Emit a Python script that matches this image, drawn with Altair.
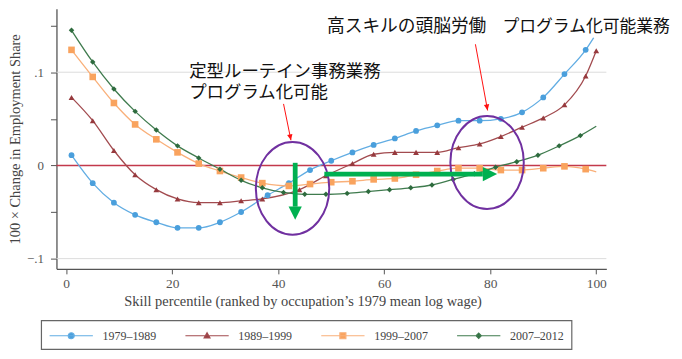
import altair as alt
import numpy as np
import pandas as pd

# ---------------- data ----------------
periods = ["1979–1989", "1989–1999", "1999–2007", "2007–2012"]
marker_colors = ["#4A9FDC", "#973A3E", "#F9A35E", "#2E6B3E"]
line_colors = ["#62ADE3", "#A24B4F", "#F9B07A", "#3F7B4E"]
marker_shapes = ["circle", "triangle-up", "square", "diamond"]
marker_sizes = [34, 34, 44, 30]

x_7989 = [1, 5, 9, 13, 17, 21, 25, 29, 33, 38, 42, 46, 50, 54, 58, 62, 66, 70, 74, 78, 82, 86, 90, 94, 98]
y_7989 = [0.011, -0.019, -0.040, -0.053, -0.061, -0.067, -0.067, -0.061, -0.050, -0.032, -0.019, -0.005,
          0.005, 0.014, 0.022, 0.029, 0.037, 0.043, 0.048, 0.048, 0.050, 0.057, 0.073, 0.098, 0.124]

x_8999 = [1, 5, 9, 13, 17, 21, 25, 29, 33, 37, 44, 49, 54, 58, 62, 66, 70, 74, 78, 82, 86, 90, 94, 98, 100]
y_8999 = [0.073, 0.048, 0.016, -0.010, -0.026, -0.036, -0.040, -0.040, -0.038, -0.036, -0.026, -0.011,
          0.002, 0.012, 0.014, 0.014, 0.014, 0.019, 0.023, 0.031, 0.041, 0.051, 0.065, 0.096, 0.123]

x_9907 = [1, 5, 9, 13, 17, 21, 25, 29, 33, 37, 42, 46, 50, 54, 58, 62, 66, 70, 74, 78, 82, 86, 90, 94, 98]
y_9907 = [0.124, 0.095, 0.067, 0.044, 0.028, 0.014, 0.002, -0.006, -0.013, -0.019, -0.022, -0.020,
          -0.018, -0.017, -0.015, -0.014, -0.010, -0.006, -0.003, -0.003, -0.005, -0.005, -0.003, -0.001, -0.004]

x_0712 = [1, 5, 9, 13, 17, 21, 25, 29, 33, 37, 41, 45, 49, 53, 57, 61, 65, 69, 73, 77, 81, 85, 89, 93, 97]
y_0712 = [0.145, 0.111, 0.082, 0.058, 0.038, 0.021, 0.008, -0.004, -0.016, -0.024, -0.029, -0.031,
          -0.031, -0.030, -0.028, -0.026, -0.024, -0.021, -0.015, -0.009, -0.002, 0.004, 0.011, 0.021, 0.032]

# smoothed curves continue a little past the last marker
line_end_x = [99.5, None, 100, 100]
line_end_y = [0.137, None, -0.007, 0.042]

# annotations
ann_text = ["定型ルーテイン事務業務", "プログラム化可能", "高スキルの頭脳労働", "プログラム化可能業務"]
ann_x = [23.2, 23.2, 49.2, 82.3]
ann_y = [0.1005, 0.0780, 0.148, 0.148]
ann_size = [17.5, 17.5, 17.8, 16.9]

ellipse_x = [42.7, 79.4]
ellipse_y = [-0.0246, 0.0032]

red_arrow_x = [41.0, 77.2]
red_arrow_y = [0.066, 0.130]
red_arrow_x2 = [42.4, 79.5]
red_arrow_y2 = [0.027, 0.059]

green_shaft_x = [43.2, 48.7]
green_shaft_x2 = [43.2, 78.6]
green_shaft_y = [0.0028, -0.0093]
green_shaft_y2 = [-0.0442, -0.0093]
green_head_x = [43.2, 79.95]
green_head_y = [-0.0513, -0.0093]

grid_y = [-0.1, 0.1]

# ---------------- frames ----------------
series_x = [x_7989, x_8999, x_9907, x_0712]
series_y = [y_7989, y_8999, y_9907, y_0712]

mk_rows, ln_rows = [], []
for i, p in enumerate(periods):
    for xv, yv in zip(series_x[i], series_y[i]):
        mk_rows.append({"x": xv, "y": yv, "period": p, "col": marker_colors[i],
                        "shp": marker_shapes[i], "sz": marker_sizes[i]})
        ln_rows.append({"x": xv, "y": yv, "period": p, "col": line_colors[i]})
    if line_end_x[i] is not None:
        ln_rows.append({"x": line_end_x[i], "y": line_end_y[i], "period": p, "col": line_colors[i]})
markers = pd.DataFrame(mk_rows)
lines = pd.DataFrame(ln_rows)

X_DOMAIN = [-1.84, 101.9]
Y_DOMAIN = [-0.111, 0.168]
W, H = 552.6, 261.3

SERIF = "Liberation Serif"
AX_COL = "#555555"


def X(field="x"):
    return alt.X(f"{field}:Q", scale=alt.Scale(domain=X_DOMAIN, nice=False, zero=False),
                 axis=alt.Axis(values=[0, 20, 40, 60, 80, 100], grid=False,
                               title="Skill percentile (ranked by occupation’s 1979 mean log wage)",
                               tickSize=5, tickColor=AX_COL, domainColor=AX_COL, domainWidth=1.3,
                               labelFont=SERIF, labelFontSize=13.5, labelColor=AX_COL, labelPadding=3,
                               titleFont=SERIF, titleFontSize=14.5, titleFontWeight="normal",
                               titleColor="#444444", titlePadding=4, titleX=247.3, titleAlign="center"))


def Y(field="y"):
    return alt.Y(f"{field}:Q", scale=alt.Scale(domain=Y_DOMAIN, nice=False, zero=False),
                 axis=alt.Axis(values=[-0.1, -0.05, 0, 0.05, 0.1, 0.15], grid=False,
                               labelExpr="datum.value == 0.1 ? '.1' : (datum.value == 0 ? '0' : (datum.value == -0.1 ? '−.1' : ''))",
                               title="100 × Change in Employment Share",
                               tickSize=6, tickColor=AX_COL, domainColor=AX_COL, domainWidth=1.3,
                               labelFont=SERIF, labelFontSize=13, labelColor=AX_COL, labelPadding=7,
                               titleFont=SERIF, titleFontSize=14.5, titleFontWeight="normal",
                               titleColor="#444444", titlePadding=4))


grid = alt.Chart(pd.DataFrame({"y": grid_y})).mark_rule(color="#DCDCDC", strokeWidth=1).encode(y=Y())
zero = alt.Chart(pd.DataFrame({"y": [0.0]})).mark_rule(color="#C3394B", strokeWidth=1.6).encode(y=Y())

line_layer = alt.Chart(lines).mark_line(interpolate="monotone", strokeWidth=1.3).encode(
    x=X(), y=Y(), detail="period:N", color=alt.Color("col:N", scale=None))

point_layer = alt.Chart(markers).mark_point(filled=True, opacity=1).encode(
    x=X(), y=Y(), color=alt.Color("col:N", scale=None), shape=alt.Shape("shp:N", scale=None),
    size=alt.Size("sz:Q", scale=None))

ellipse_path = ("M0,-1C0.436,-1,0.79,-0.552,0.79,0C0.79,0.552,0.436,1,0,1"
                "C-0.436,1,-0.79,0.552,-0.79,0C-0.79,-0.552,-0.436,-1,0,-1Z")
ellipses = alt.Chart(pd.DataFrame({"x": ellipse_x, "y": ellipse_y})).mark_point(
    shape=ellipse_path, size=8724, filled=False, stroke="#7030A0", strokeWidth=2, opacity=1
).encode(x=X(), y=Y())

green_shafts = alt.Chart(pd.DataFrame({"x": green_shaft_x, "x2": green_shaft_x2,
                                       "y": green_shaft_y, "y2": green_shaft_y2})).mark_rule(
    color="#00B050", strokeWidth=4.8).encode(x=X(), x2="x2:Q", y=Y(), y2="y2:Q")
green_heads = alt.Chart(pd.DataFrame({"x": green_head_x, "y": green_head_y,
                                      "shp": ["M-1,-1L1,-1L0,1Z", "M-1,-1L1,0L-1,1Z"],
                                      "sz": [177, 207]})).mark_point(
    filled=True, color="#00B050", opacity=1).encode(
    x=X(), y=Y(), shape=alt.Shape("shp:N", scale=None), size=alt.Size("sz:Q", scale=None))

# red arrows: line + small head rotated along the line direction
px_x = W / (X_DOMAIN[1] - X_DOMAIN[0])
px_y = H / (Y_DOMAIN[1] - Y_DOMAIN[0])
dx = (np.array(red_arrow_x2) - np.array(red_arrow_x)) * px_x
dy = -(np.array(red_arrow_y2) - np.array(red_arrow_y)) * px_y
ang = (np.degrees(-np.arcsin(dx / np.hypot(dx, dy))) + 360) % 360
red_lines = alt.Chart(pd.DataFrame({"x": red_arrow_x, "y": red_arrow_y,
                                    "x2": red_arrow_x2, "y2": red_arrow_y2})).mark_rule(
    color="#FF1010", strokeWidth=1).encode(x=X(), x2="x2:Q", y=Y(), y2="y2:Q")
red_heads = alt.Chart(pd.DataFrame({"x": red_arrow_x2, "y": red_arrow_y2, "a": ang})).mark_point(
    shape="M0,0L-0.45,-1L0.45,-1Z", size=144, filled=True, color="#FF1010", opacity=1).encode(
    x=X(), y=Y(), angle=alt.Angle("a:Q", scale=None))

texts = alt.Chart(pd.DataFrame({"x": ann_x, "y": ann_y, "t": ann_text, "fs": ann_size})).mark_text(
    align="left", baseline="middle", font="Noto Sans CJK JP", color="#111111").encode(
    x=X(), y=Y(), text="t:N", size=alt.Size("fs:Q", scale=None))

# legend (line + marker symbols); nominal symbol box 14px, line drawn to the right of it
legend_paths = [
    "M-1,0H5.214M2.537,0A0.43,0.43,0,1,1,1.677,0A0.43,0.43,0,1,1,2.537,0Z",
    "M-1,0H5.214M2.107,-0.42L2.527,0.32L1.687,0.32Z",
    "M-1,0H5.214M1.677,-0.43H2.537V0.43H1.677Z",
    "M-1,0H5.214M2.107,-0.38L2.487,0L2.107,0.38L1.727,0Z",
]
leg = alt.Chart(pd.DataFrame({"period": periods, "x": [0] * 4, "y": [0] * 4})).transform_filter(
    "false").mark_point(opacity=1, strokeWidth=1.2).encode(
    x=X(), y=Y(),
    shape=alt.Shape("period:N", scale=alt.Scale(domain=periods, range=legend_paths), legend=alt.Legend(title=None)),
    fill=alt.Fill("period:N", scale=alt.Scale(domain=periods, range=marker_colors), legend=alt.Legend(title=None)),
    stroke=alt.Stroke("period:N", scale=alt.Scale(domain=periods, range=line_colors), legend=alt.Legend(title=None)),
)

chart = alt.layer(grid, zero, line_layer, point_layer, ellipses, green_shafts, green_heads,
                  red_lines, red_heads, texts, leg).properties(
    width=W, height=H,
    autosize=alt.AutoSizeParams(type="none"),
    padding={"left": 48.7, "top": 0, "right": 68, "bottom": 88},
).configure_view(stroke=None).configure_legend(
    orient="none", legendX=-15.4, legendY=313, direction="horizontal",
    strokeColor="#666666", strokeWidth=1.2, fillColor="white", padding=7.5,
    symbolSize=196, symbolStrokeWidth=1.2, symbolOpacity=1,
    labelFont=SERIF, labelFontSize=12, labelColor="#444444", labelOffset=38.2,
    columnPadding=25.5,
)

chart.save("out.html", embed_options={"renderer": "svg", "actions": False})
